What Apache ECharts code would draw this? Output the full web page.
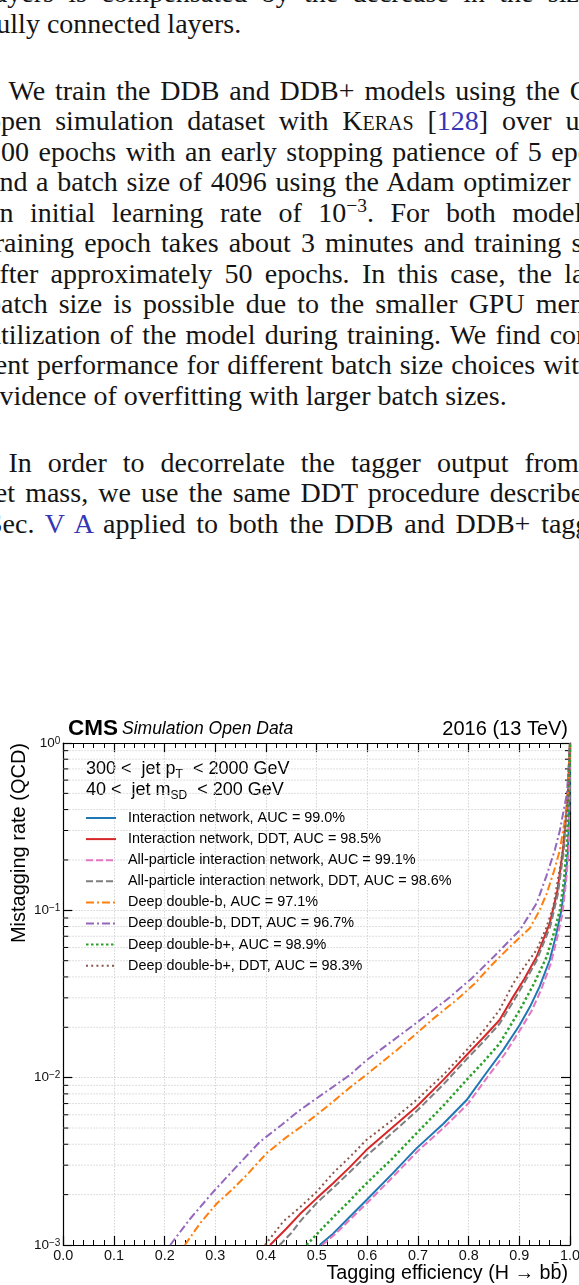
<!DOCTYPE html>
<html>
<head>
<meta charset="utf-8">
<script src="https://cdn.jsdelivr.net/npm/echarts@6.0.0/dist/echarts.min.js"></script>
<style>
html, body { margin: 0; padding: 0; background: #fff; }
body { width: 579px; height: 1285px; position: relative; overflow: hidden; }
.line {
  position: absolute; left: -13px; width: 642px; white-space: nowrap;
  font-family: 'Liberation Serif', 'Times New Roman', serif;
  font-size: 28px; line-height: 28px; color: #141414;
}
.just { white-space: normal; text-align: justify; text-align-last: justify; }
.cite { color: #3535b5; }
.sc { font-variant: small-caps; }
.sup { position: relative; top: -0.5em; font-size: 0.7em; }
#chart { position: absolute; left: 0; top: 690px; width: 579px; height: 595px; }
</style>
</head>
<body>
<div id="text"></div>
<div id="chart"></div>
<script>
// page text, one entry per typeset line (baseline in px)
const textLines = [
  { b: 2.5, j: true, html: 'layers is compensated by the decrease in the size of' },
  { b: 33, j: false, html: 'fully connected layers.' },
  { b: 100, j: true, indent: 21.5, html: 'We train the DDB and DDB+ models using the CMS' },
  { b: 130.5, j: true, html: 'open simulation dataset with <span class="sc">Keras</span> [<span class="cite">128</span>] over up to' },
  { b: 161, j: true, html: '200 epochs with an early stopping patience of 5 epochs' },
  { b: 191.5, j: true, html: 'and a batch size of 4096 using the Adam optimizer with' },
  { b: 222, j: true, html: 'an initial learning rate of 10<span class="sup">−3</span>. For both models, a' },
  { b: 252.5, j: true, html: 'training epoch takes about 3 minutes and training stops' },
  { b: 283, j: true, html: 'after approximately 50 epochs. In this case, the larger' },
  { b: 313.5, j: true, html: 'batch size is possible due to the smaller GPU memory' },
  { b: 344, j: true, html: 'utilization of the model during training. We find consis-' },
  { b: 374.5, j: true, html: 'tent performance for different batch size choices with no' },
  { b: 405, j: false, html: 'evidence of overfitting with larger batch sizes.' },
  { b: 472, j: true, indent: 21.5, html: 'In order to decorrelate the tagger output from the' },
  { b: 502.5, j: true, html: 'jet mass, we use the same DDT procedure described in' },
  { b: 533, j: true, html: 'Sec. <span class="cite">V A</span> applied to both the DDB and DDB+ taggers.' }
]

const textBox = document.getElementById('text')
textLines.forEach(l => {
  const d = document.createElement('div')
  d.className = 'line' + (l.j ? ' just' : '')
  d.style.top = (l.b - 23.45) + 'px'
  if (l.indent) {
    d.style.paddingLeft = l.indent + 'px'
    d.style.width = (642 - l.indent) + 'px'
  }
  d.innerHTML = l.html
  textBox.appendChild(d)
})

// ROC curves: [tagging efficiency, mistagging rate]
const inNet = [[0.506, 0.001], [0.53, 0.00115], [0.566, 0.00148], [0.598, 0.00185], [0.65, 0.00268], [0.697, 0.00378], [0.75, 0.0053], [0.796, 0.00735], [0.83, 0.0102], [0.868, 0.0146], [0.90, 0.0205], [0.921, 0.0265], [0.94, 0.035], [0.96, 0.0505], [0.972, 0.07], [0.983, 0.1], [0.991, 0.15], [0.996, 0.229], [0.999, 0.45], [1.0, 1.0]]
const inNetDdt = [[0.408, 0.001], [0.44, 0.00125], [0.467, 0.00153], [0.5, 0.0019], [0.533, 0.00235], [0.566, 0.00293], [0.598, 0.00369], [0.65, 0.00505], [0.697, 0.0067], [0.75, 0.0097], [0.796, 0.01365], [0.83, 0.0175], [0.861, 0.0221], [0.888, 0.0305], [0.91, 0.039], [0.934, 0.0528], [0.96, 0.0836], [0.975, 0.13], [0.986, 0.229], [0.995, 0.45], [1.0, 1.0]]
const apNet = [[0.511, 0.001], [0.535, 0.00115], [0.57, 0.00146], [0.601, 0.0018], [0.653, 0.0026], [0.70, 0.00365], [0.753, 0.0051], [0.799, 0.0070], [0.833, 0.0097], [0.871, 0.0138], [0.903, 0.0196], [0.924, 0.025], [0.943, 0.0335], [0.962, 0.048], [0.974, 0.067], [0.985, 0.095], [0.992, 0.145], [0.997, 0.22], [0.999, 0.45], [1.0, 1.0]]
const apNetDdt = [[0.427, 0.001], [0.45, 0.00118], [0.467, 0.00138], [0.5, 0.00178], [0.533, 0.0022], [0.566, 0.00274], [0.598, 0.0034], [0.65, 0.0047], [0.697, 0.0063], [0.75, 0.0091], [0.796, 0.0129], [0.83, 0.0165], [0.861, 0.021], [0.888, 0.0285], [0.91, 0.037], [0.934, 0.050], [0.961, 0.08], [0.976, 0.125], [0.987, 0.22], [0.995, 0.45], [1.0, 1.0]]
const ddb = [[0.240, 0.001], [0.27, 0.00135], [0.303, 0.00177], [0.33, 0.0021], [0.362, 0.00262], [0.401, 0.00353], [0.44, 0.0044], [0.474, 0.00521], [0.52, 0.0067], [0.566, 0.00875], [0.598, 0.0104], [0.658, 0.0146], [0.69, 0.0176], [0.73, 0.0225], [0.776, 0.0291], [0.81, 0.036], [0.848, 0.048], [0.88, 0.060], [0.921, 0.0785], [0.94, 0.10], [0.954, 0.126], [0.968, 0.17], [0.98, 0.229], [0.99, 0.35], [0.997, 0.55], [1.0, 1.0]]
const ddbDdt = [[0.211, 0.001], [0.25, 0.00143], [0.296, 0.00208], [0.34, 0.0029], [0.388, 0.00414], [0.43, 0.0052], [0.467, 0.0064], [0.52, 0.0083], [0.566, 0.0104], [0.598, 0.0127], [0.625, 0.0146], [0.69, 0.0205], [0.756, 0.0291], [0.806, 0.0392], [0.85, 0.053], [0.901, 0.0762], [0.934, 0.110], [0.953, 0.159], [0.97, 0.229], [0.98, 0.30], [0.994, 0.5], [1.0, 1.0]]
const ddbPlus = [[0.480, 0.001], [0.52, 0.00134], [0.566, 0.00185], [0.598, 0.00233], [0.65, 0.0033], [0.697, 0.00465], [0.75, 0.0068], [0.796, 0.0097], [0.83, 0.0125], [0.861, 0.016], [0.901, 0.0254], [0.93, 0.037], [0.954, 0.0528], [0.968, 0.073], [0.98, 0.1], [0.988, 0.15], [0.993, 0.229], [0.998, 0.45], [1.0, 1.0]]
const ddbPlusDdt = [[0.398, 0.001], [0.434, 0.00138], [0.467, 0.00168], [0.5, 0.00208], [0.533, 0.0027], [0.566, 0.00337], [0.598, 0.00424], [0.65, 0.0056], [0.697, 0.00735], [0.75, 0.0104], [0.796, 0.0146], [0.83, 0.0192], [0.861, 0.0254], [0.888, 0.0366], [0.91, 0.046], [0.934, 0.058], [0.952, 0.077], [0.967, 0.105], [0.986, 0.229], [0.995, 0.45], [1.0, 1.0]]

const curveNames = [
  'Interaction network, AUC = 99.0%',
  'Interaction network, DDT, AUC = 98.5%',
  'All-particle interaction network, AUC = 99.1%',
  'All-particle interaction network, DDT, AUC = 98.6%',
  'Deep double-b, AUC = 97.1%',
  'Deep double-b, DDT, AUC = 96.7%',
  'Deep double-b+, AUC = 98.9%',
  'Deep double-b+, DDT, AUC = 98.3%'
]
const curveData = [inNet, inNetDdt, apNet, apNetDdt, ddb, ddbDdt, ddbPlus, ddbPlusDdt]

// log-axis minor ticks (2..9 x decade)
const minorMistag = [0.002, 0.003, 0.004, 0.005, 0.006, 0.007, 0.008, 0.009,
  0.02, 0.03, 0.04, 0.05, 0.06, 0.07, 0.08, 0.09,
  0.2, 0.3, 0.4, 0.5, 0.6, 0.7, 0.8, 0.9]

const curveStyles = [
  { color: '#1f77b4', type: 'solid', width: 2 },
  { color: '#d62728', type: 'solid', width: 2 },
  { color: '#e377c2', type: [7, 3], width: 2 },
  { color: '#7f7f7f', type: [7, 3], width: 2 },
  { color: '#ff7f0e', type: [8, 3, 2, 3], width: 2 },
  { color: '#9467bd', type: [8, 3, 2, 3], width: 2 },
  { color: '#2ca02c', type: [2.5, 2.5], width: 2.5 },
  { color: '#8c564b', type: [2, 3.2], width: 2 }
]

const SANS = "'Liberation Sans', Arial, Helvetica, sans-serif"
const gridColor = '#d4d4d4'
const frame = { color: '#000', width: 1.2 }

const chart = echarts.init(document.getElementById('chart'))

const subRich = {
  t: { fontFamily: SANS, fontSize: 18, lineHeight: 20, verticalAlign: 'top', fill: '#000' },
  u: { fontFamily: SANS, fontSize: 12, lineHeight: 13, verticalAlign: 'bottom', padding: [8.5, 0, 0, 0], fill: '#000' }
}

const option = {
  animation: false,
  grid: {
    left: 63.3, right: 9, top: 53, bottom: 40,
    containLabel: false, outerBoundsMode: 'none'
  },
  legend: {
    data: curveNames,
    orient: 'vertical',
    left: 85,
    top: 121,
    padding: 0,
    itemWidth: 30,
    itemHeight: 14,
    itemGap: 7.1,
    selectedMode: false,
    itemStyle: { opacity: 0 },
    textStyle: { fontFamily: SANS, fontSize: 14.4, color: '#000', lineHeight: 14, padding: [0, 0, 0, 7] }
  },
  xAxis: [
    {
      type: 'value', min: 0, max: 1, interval: 0.1, position: 'bottom',
      axisLine: { show: true, onZero: false, lineStyle: frame },
      axisTick: { show: true, inside: true, length: 9, lineStyle: frame },
      minorTick: { show: true, splitNumber: 5, length: 5, lineStyle: { color: '#000', width: 1 } },
      axisLabel: { fontFamily: SANS, fontSize: 14.4, color: '#111', margin: 4, formatter: v => v.toFixed(1) },
      splitLine: { show: true, lineStyle: { color: gridColor, type: [1.5, 1.5], width: 1 } }
    },
    {
      type: 'value', min: 0, max: 1, interval: 0.1, position: 'top',
      axisLine: { show: true, onZero: false, lineStyle: frame },
      axisTick: { show: true, inside: true, length: 9, lineStyle: frame },
      minorTick: { show: true, splitNumber: 5, length: 5, lineStyle: { color: '#000', width: 1 } },
      axisLabel: { show: false },
      splitLine: { show: false }
    }
  ],
  yAxis: [
    {
      type: 'log', logBase: 10, min: 0.001, max: 1, position: 'left',
      axisLine: { show: true, onZero: false, lineStyle: frame },
      axisTick: { show: true, inside: true, length: 9, lineStyle: frame },
      axisLabel: {
        margin: 3,
        formatter: v => {
          const e = Math.round(Math.log10(v))
          return '{b|10}{s|' + (e === 0 ? '0' : '\u2212' + (-e)) + '}'
        },
        rich: {
          b: { fontFamily: SANS, fontSize: 13.5, color: '#111', lineHeight: 14, verticalAlign: 'middle' },
          s: { fontFamily: SANS, fontSize: 10, color: '#111', lineHeight: 10, verticalAlign: 'top', padding: [0, 0, 10, 0] }
        }
      },
      splitLine: { show: true, lineStyle: { color: gridColor, type: [1.5, 1.5], width: 1 } }
    },
    {
      type: 'log', logBase: 10, min: 0.001, max: 1, position: 'right',
      axisLine: { show: true, onZero: false, lineStyle: frame },
      axisTick: { show: true, inside: true, length: 9, lineStyle: frame },
      axisLabel: { show: false },
      splitLine: { show: false }
    }
  ],
  graphic: [
    { type: 'text', x: 68, y: 38.3, style: { text: 'CMS', font: 'bold 22.5px ' + SANS, fill: '#000', verticalAlign: 'middle' } },
    { type: 'text', x: 122, y: 39.6, style: { text: 'Simulation Open Data', font: 'italic 17.5px ' + SANS, fill: '#000', verticalAlign: 'middle' } },
    { type: 'text', x: 568, y: 39, style: { text: '2016 (13 TeV)', font: '20px ' + SANS, fill: '#000', align: 'right', verticalAlign: 'middle' } },
    {
      type: 'text', x: 19, y: 53, rotation: Math.PI / 2,
      style: { text: 'Mistagging rate (QCD)', font: '20px ' + SANS, fill: '#000', align: 'right', verticalAlign: 'middle' }
    },
    {
      type: 'text', x: 568, y: 583.5,
      style: { text: 'Tagging efficiency (H \u2192 bb\u0304)', font: '19.7px ' + SANS, fill: '#000', align: 'right', verticalAlign: 'middle' }
    },
    { type: 'text', x: 86, y: 70.5, style: { text: '{t|300 <  jet p}{u|T}{t|  < 2000 GeV}', rich: subRich } },
    { type: 'text', x: 86, y: 91.5, style: { text: '{t|40 <  jet m}{u|SD}{t|  < 200 GeV}', rich: subRich } }
  ],
  series: [
    {
      type: 'custom',
      name: 'minor',
      silent: true,
      z: 1,
      xAxisIndex: 0,
      yAxisIndex: 0,
      data: minorMistag.map(v => [0, v]),
      renderItem: (params, api) => {
        const v = api.value(1)
        const a = api.coord([0, v])
        const b = api.coord([1, v])
        return {
          type: 'group',
          children: [
            { type: 'line', shape: { x1: a[0], y1: a[1], x2: b[0], y2: b[1] }, style: { stroke: gridColor, lineWidth: 1, lineDash: [1.5, 1.5] } },
            { type: 'line', shape: { x1: a[0], y1: a[1], x2: a[0] + 5, y2: a[1] }, style: { stroke: '#000', lineWidth: 1 } },
            { type: 'line', shape: { x1: b[0] - 5, y1: b[1], x2: b[0], y2: b[1] }, style: { stroke: '#000', lineWidth: 1 } }
          ]
        }
      }
    },
    ...curveData.map((d, i) => ({
      type: 'line',
      name: curveNames[i],
      data: d,
      xAxisIndex: 0,
      yAxisIndex: 0,
      showSymbol: false,
      symbol: 'none',
      smooth: false,
      z: 3,
      itemStyle: { color: curveStyles[i].color },
      lineStyle: { color: curveStyles[i].color, width: curveStyles[i].width, type: curveStyles[i].type }
    }))
  ]
}

chart.setOption(option)
</script>
</body>
</html>
